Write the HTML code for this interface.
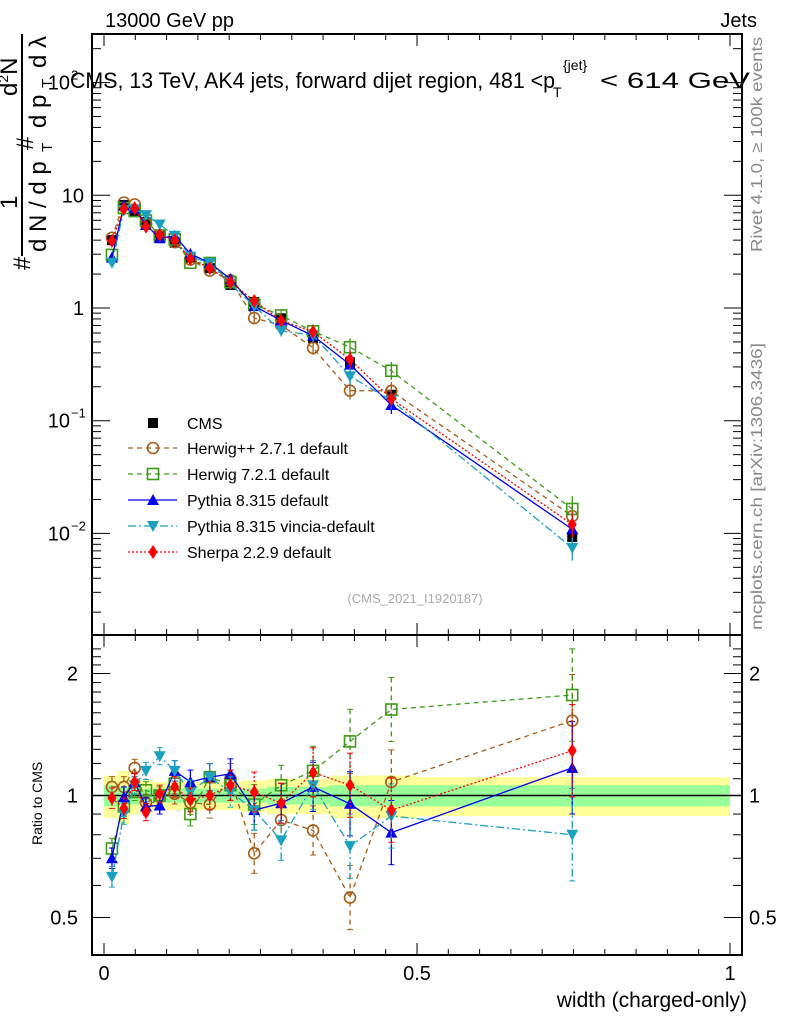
<!DOCTYPE html>
<html><head><meta charset="utf-8"><style>
body{margin:0;background:#fff;}
svg{display:block;font-family:"Liberation Sans",sans-serif;}
</style></head><body>
<svg id="c" width="786" height="1024" xmlns="http://www.w3.org/2000/svg">
<g id="band"></g>
<g id="axes"></g>
<g id="series"></g>
<g id="texts">
<text x="105" y="27" font-size="20">13000 GeV pp</text>
<text x="757" y="27" font-size="20" text-anchor="end">Jets</text>
<g font-size="22">
<text x="70" y="88" textLength="485" lengthAdjust="spacingAndGlyphs">CMS, 13 TeV, AK4 jets, forward dijet region, 481 &lt;p</text>
<text x="553" y="97" font-size="14">T</text>
<text x="563" y="70" font-size="14">{jet}</text>
<text x="600" y="88" textLength="150" lengthAdjust="spacingAndGlyphs">&lt; 614 GeV</text>
</g>
<text x="415" y="603" font-size="13" fill="#aaa" text-anchor="middle">(CMS_2021_I1920187)</text>
<text x="747" y="1007" font-size="21" text-anchor="end">width (charged-only)</text>
<text transform="translate(762,252) rotate(-90)" font-size="16" fill="#888" textLength="215" lengthAdjust="spacingAndGlyphs">Rivet 4.1.0, ≥ 100k events</text>
<text transform="translate(762,630) rotate(-90)" font-size="16" fill="#888" textLength="287" lengthAdjust="spacingAndGlyphs">mcplots.cern.ch [arXiv:1306.3436]</text>
<text transform="translate(42,845) rotate(-90)" font-size="14">Ratio to CMS</text>
<g transform="rotate(-90)" font-size="24">
<text x="-270" y="30">#</text>
<line x1="-256" y1="22" x2="-34" y2="22" stroke="#000" stroke-width="2"/>
<text x="-209" y="17">1</text>
<text x="-150" y="33">#</text>
<text x="-96" y="17">d<tspan font-size="14" dy="-9">2</tspan><tspan dy="9">N</tspan></text>
<text x="-252" y="46">d N / d p</text>
<text x="-152" y="52" font-size="15">T</text>
<text x="-128" y="46">d p</text>
<text x="-88" y="52" font-size="15">T</text>
<text x="-68" y="46">d λ</text>
</g>
</g>
<g id="legend"></g>
</svg>
<script>
const xCenters=[0.0127,0.0318,0.049,0.067,0.089,0.113,0.138,0.169,0.202,0.240,0.283,0.334,0.393,0.459,0.748];
const binEdges=[0,0.022,0.04,0.058,0.078,0.1,0.125,0.152,0.185,0.22,0.26,0.31,0.36,0.425,0.5,1.0];
const cmsValues=[4.0,8.2,7.1,5.8,4.4,3.8,2.8,2.26,1.6,1.13,0.81,0.54,0.33,0.17,0.0093];
const bandGreen=[0.06,0.05,0.05,0.04,0.04,0.04,0.04,0.04,0.04,0.04,0.05,0.05,0.06,0.06,0.06];
const bandYellow=[0.12,0.15,0.10,0.09,0.08,0.08,0.08,0.08,0.08,0.09,0.10,0.10,0.12,0.12,0.11];
const herwigppRatio=[1.05,1.05,1.17,0.96,1.0,1.01,0.96,0.95,1.10,0.72,0.87,0.82,0.56,1.08,1.53];
const herwig7Ratio=[0.74,0.94,1.02,1.03,1.0,1.07,0.90,1.11,1.06,0.95,1.06,1.15,1.36,1.63,1.77];
const pythiaRatio=[0.70,0.99,1.08,0.94,0.945,1.15,1.08,1.11,1.13,0.92,0.957,1.05,0.954,0.81,1.17];
const vinciaRatio=[0.63,0.90,1.06,1.15,1.25,1.15,1.02,1.11,1.02,0.92,0.775,1.06,0.75,0.89,0.80];
const sherpaRatio=[0.985,0.93,1.08,0.91,1.01,1.05,0.976,1.0,1.06,1.02,0.957,1.14,1.06,0.92,1.29];
const ratioErr=[0.06,0.06,0.05,0.05,0.05,0.06,0.07,0.08,0.09,0.12,0.12,0.15,0.20,0.20,0.30];
const mainTicks=[{v:0.01,l:"10",e:"−2"},{v:0.1,l:"10",e:"−1"},{v:1,l:"1"},{v:10,l:"10"},{v:100,l:"10",e:"2"}];
const ratioTicks=[0.5,1,2];
const xTicks=[0,0.5,1];

const NS="http://www.w3.org/2000/svg";
const X0=92,X1=742,MT=34,MB=635,RB=955;
function xs(v){return 104+626*v;}
function ym(v){return 308-112.7*Math.log10(v);}
function yr(v){return 795.5-122*Math.log2(v);}
function mk(p,tag,at){const e=document.createElementNS(NS,tag);for(const k in at)e.setAttribute(k,at[k]);p.appendChild(e);return e;}
const axes=document.getElementById('axes'),ser=document.getElementById('series'),band=document.getElementById('band'),leg=document.getElementById('legend');

for(let i=0;i<xCenters.length;i++){
 const xa=xs(binEdges[i]),xb=xs(binEdges[i+1]);
 const y=mk(band,'rect',{x:xa,y:yr(1+bandYellow[i]),width:xb-xa,height:yr(1-bandYellow[i])-yr(1+bandYellow[i]),fill:'#ffff99'});
 
 
 const g=mk(band,'rect',{x:xa,y:yr(1+bandGreen[i]),width:xb-xa,height:yr(1-bandGreen[i])-yr(1+bandGreen[i]),fill:'#99ff99'});
 
 
}
mk(axes,'line',{x1:X0,x2:X1,y1:yr(1),y2:yr(1),stroke:'#000','stroke-width':1.5});
mk(axes,'rect',{x:X0,y:MT,width:X1-X0,height:MB-MT,fill:'none',stroke:'#000','stroke-width':2});
mk(axes,'rect',{x:X0,y:MB,width:X1-X0,height:RB-MB,fill:'none',stroke:'#000','stroke-width':2});
for(let v=0;v<=1.001;v+=0.05){const big=Math.round(v*20)%10==0;const L=big?12:6;
 for(const [yb,dir] of [[MB,-1],[MT,1],[RB,-1],[MB,1]]) mk(axes,'line',{x1:xs(v),x2:xs(v),y1:yb,y2:yb+dir*L,stroke:'#000','stroke-width':1});}
xTicks.forEach(v=>{const t=mk(axes,'text',{x:xs(v),y:980,'font-size':20,'text-anchor':'middle'});t.textContent=String(v);
 
 });
for(let d=-3;d<=2;d++)for(let m=1;m<10;m++){const v=m*Math.pow(10,d);const y=ym(v);if(y<MT||y>MB)continue;const L=m==1?18:9;
 mk(axes,'line',{x1:X0,x2:X0+L,y1:y,y2:y,stroke:'#000'});mk(axes,'line',{x1:X1,x2:X1-L,y1:y,y2:y,stroke:'#000'});}
mainTicks.forEach(t=>{const e=mk(axes,'text',{x:t.e?70:84,y:ym(t.v)+7,'font-size':20,'text-anchor':'end'});e.textContent=t.l;
 
 
 if(t.e){const s=mk(axes,'text',{x:71,y:ym(t.v)-3,'font-size':13});s.textContent=t.e;}});
for(let v=0.4;v<=2.31;v+=0.1){const y=yr(v);if(y<MB||y>RB)continue;const big=ratioTicks.some(r=>Math.abs(r-v)<1e-6);const L=big?18:9;
 mk(axes,'line',{x1:X0,x2:X0+L,y1:y,y2:y,stroke:'#000'});mk(axes,'line',{x1:X1,x2:X1-L,y1:y,y2:y,stroke:'#000'});}
ratioTicks.forEach(v=>{const a=mk(axes,'text',{x:78,y:yr(v)+7,'font-size':20,'text-anchor':'end'});a.textContent=String(v);
 
 
 const b=mk(axes,'text',{x:749,y:yr(v)+7,'font-size':20});b.textContent=String(v);
 
 });

function marker(p,type,x,y,col){
 if(type=='sq')return mk(p,'rect',{x:x-5,y:y-5,width:10,height:10,fill:'#000'});
 if(type=='circ')return mk(p,'circle',{cx:x,cy:y,r:5.5,fill:'none',stroke:col,'stroke-width':1.6});
 if(type=='osq')return mk(p,'rect',{x:x-5.5,y:y-5.5,width:11,height:11,fill:'none',stroke:col,'stroke-width':1.6});
 if(type=='tri')return mk(p,'polygon',{points:`${x},${y-6} ${x-6},${y+5} ${x+6},${y+5}`,fill:col});
 if(type=='itri')return mk(p,'polygon',{points:`${x},${y+6} ${x-6},${y-5} ${x+6},${y-5}`,fill:col});
 if(type=='dia')return mk(p,'polygon',{points:`${x},${y-7} ${x-4.5},${y} ${x},${y+7} ${x+4.5},${y}`,fill:col});
}
const cg=mk(ser,'g',{});


xCenters.forEach((xv,i)=>{const p=marker(cg,'sq',xs(xv),ym(cmsValues[i]),'#000');
 
 });
const seriesDefs=[
 {name:'herwigpp',r:herwigppRatio,col:'#a65c17',m:'circ',dash:'5,4',label:'Herwig++ 2.7.1 default'},
 {name:'herwig7',r:herwig7Ratio,col:'#3d9a17',m:'osq',dash:'5,4',label:'Herwig 7.2.1 default'},
 {name:'pythia',r:pythiaRatio,col:'#0000ee',m:'tri',dash:'',label:'Pythia 8.315 default'},
 {name:'vincia',r:vinciaRatio,col:'#1aa0c0',m:'itri',dash:'8,3,2,3',label:'Pythia 8.315 vincia-default'},
 {name:'sherpa',r:sherpaRatio,col:'#ff0000',m:'dia',dash:'2,2',label:'Sherpa 2.2.9 default'}];
seriesDefs.forEach(s=>{
 const g=mk(ser,'g',{});
 
 
 const pm=[],pr=[];
 xCenters.forEach((xv,i)=>{const x=xs(xv);const vm=cmsValues[i]*s.r[i];pm.push(x+','+ym(vm));pr.push(x+','+yr(s.r[i]));});
 mk(g,'polyline',{points:pm.join(' '),fill:'none',stroke:s.col,'stroke-width':1.3,'stroke-dasharray':s.dash});
 mk(g,'polyline',{points:pr.join(' '),fill:'none',stroke:s.col,'stroke-width':1.3,'stroke-dasharray':s.dash});
 xCenters.forEach((xv,i)=>{const x=xs(xv);const r=s.r[i],e=ratioErr[i];
  mk(g,'line',{x1:x,x2:x,y1:yr(r*(1+e)),y2:yr(r/(1+e)),stroke:s.col,'stroke-width':1.3,'stroke-dasharray':s.dash});
  mk(g,'line',{x1:x-3,x2:x+3,y1:yr(r*(1+e)),y2:yr(r*(1+e)),stroke:s.col});
  mk(g,'line',{x1:x-3,x2:x+3,y1:yr(r/(1+e)),y2:yr(r/(1+e)),stroke:s.col});
  const vm=cmsValues[i]*r;
  mk(g,'line',{x1:x,x2:x,y1:ym(vm*(1+e)),y2:ym(vm/(1+e)),stroke:s.col,'stroke-width':1.3});
  const a=marker(g,s.m,x,ym(vm),s.col);
  
  
  const b=marker(g,s.m,x,yr(r),s.col);
  
  
 });
});
const ly=[423,448,474,500,526,552];
const lc=mk(leg,'g',{});


marker(lc,'sq',153,ly[0],'#000');
mk(lc,'text',{x:187,y:ly[0]+6,'font-size':16}).textContent='CMS';
seriesDefs.forEach((s,i)=>{const g=mk(leg,'g',{});
 
 
 const y=ly[i+1];
 mk(g,'line',{x1:128,x2:177,y1:y,y2:y,stroke:s.col,'stroke-width':1.3,'stroke-dasharray':s.dash});
 marker(g,s.m,153,y,s.col);
 mk(g,'text',{x:187,y:y+6,'font-size':16}).textContent=s.label;});
</script>
</body></html>
